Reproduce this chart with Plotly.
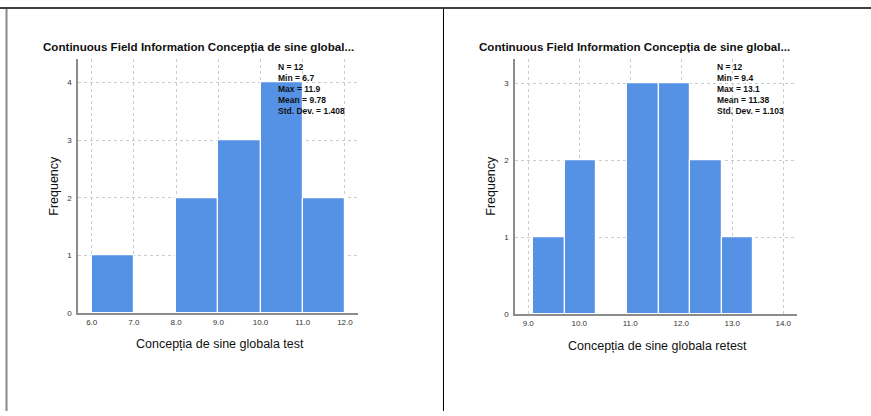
import plotly.graph_objects as go

W, H = 871, 416

# ---- data ----
test_edges = [6.0, 7.0, 8.0, 9.0, 10.0, 11.0, 12.0]
test_counts = [1, 0, 2, 3, 4, 2]
retest_edges = [9.1, 9.715, 10.33, 10.945, 11.56, 12.175, 12.79, 13.405]
retest_counts = [1, 2, 0, 3, 3, 2, 1]

test_xticks = [6.0, 7.0, 8.0, 9.0, 10.0, 11.0, 12.0]
retest_xticks = [9.0, 10.0, 11.0, 12.0, 13.0, 14.0]
test_yticks = [0, 1, 2, 3, 4]
retest_yticks = [0, 1, 2, 3]

test_stats = ["N = 12", "Min = 6.7", "Max = 11.9", "Mean = 9.78", "Std. Dev. = 1.408"]
retest_stats = ["N = 12", "Min = 9.4", "Max = 13.1", "Mean = 11.38", "Std. Dev. = 1.103"]

title_text = "Continuous Field Information Concepția de sine global..."
test_xtitle = "Concepția de sine globala test"
retest_xtitle = "Concepția de sine globala retest"
ytitle = "Frequency"

BAR = "#5592E6"
FONT = "Arial, Liberation Sans, sans-serif"


def px(x):
    return x / W


def py(y):
    return 1 - y / H


fig = go.Figure()


def add_hist(edges, counts, xa, ya):
    centers = [(edges[i] + edges[i + 1]) / 2 for i in range(len(counts))]
    widths = [edges[i + 1] - edges[i] for i in range(len(counts))]
    fig.add_trace(go.Bar(x=centers, y=counts, width=widths, xaxis=xa, yaxis=ya,
                         marker=dict(color=BAR, line=dict(color="white", width=1.2)),
                         showlegend=False, hoverinfo="skip"))


add_hist(test_edges, test_counts, "x", "y")
add_hist(retest_edges, retest_counts, "x2", "y2")

axis_common = dict(showgrid=True, gridcolor="#cccccc", griddash="dot", gridwidth=1,
                   zeroline=False, showline=True, linecolor="#8c8c8c", linewidth=1.5,
                   ticks="", tickfont=dict(family=FONT, size=8, color="#333"),
                   fixedrange=True)

fig.update_layout(
    width=W, height=H, margin=dict(l=0, r=0, t=0, b=0),
    paper_bgcolor="white", plot_bgcolor="white", bargap=0,
    xaxis=dict(domain=[px(78), px(358)], range=[5.675, 12.31], tickvals=test_xticks,
               ticktext=[f"{v:.1f}" for v in test_xticks], anchor="y", **axis_common),
    yaxis=dict(domain=[py(317), py(60)], range=[0, 4.4], tickvals=test_yticks,
               anchor="x", ticklabelstandoff=3, **axis_common),
    xaxis2=dict(domain=[px(515), px(797)], range=[8.74, 14.27], tickvals=retest_xticks,
                ticktext=[f"{v:.1f}" for v in retest_xticks], anchor="y2", **axis_common),
    yaxis2=dict(domain=[py(318), py(60)], range=[0, 3.31], tickvals=retest_yticks,
                anchor="x2", ticklabelstandoff=3, **axis_common),
)

ann = []
# titles
ann.append(dict(x=px(41), y=py(47), text=f"<b>{title_text}</b>", xanchor="left", yanchor="middle",
                font=dict(family=FONT, size=11.6, color="#111")))
ann.append(dict(x=px(477), y=py(47), text=f"<b>{title_text}</b>", xanchor="left", yanchor="middle",
                font=dict(family=FONT, size=11.6, color="#111")))
# axis titles
ann.append(dict(x=px(220), y=py(348), text=test_xtitle, xanchor="center", yanchor="middle",
                font=dict(family=FONT, size=12.5, color="#111")))
ann.append(dict(x=px(657), y=py(350), text=retest_xtitle, xanchor="center", yanchor="middle",
                font=dict(family=FONT, size=12.5, color="#111")))
ann.append(dict(x=px(54), y=py(188), text=ytitle, textangle=-90, xanchor="center", yanchor="middle",
                font=dict(family=FONT, size=12.5, color="#111")))
ann.append(dict(x=px(491), y=py(188), text=ytitle, textangle=-90, xanchor="center", yanchor="middle",
                font=dict(family=FONT, size=12.5, color="#111")))
# stats blocks
ann.append(dict(x=px(277), y=py(62), text="<br>".join(f"<b>{s}</b>" for s in test_stats),
                xanchor="left", yanchor="top", align="left", borderpad=0,
                font=dict(family=FONT, size=8.5, color="#111")))
ann.append(dict(x=px(716), y=py(62), text="<br>".join(f"<b>{s}</b>" for s in retest_stats),
                xanchor="left", yanchor="top", align="left", borderpad=0,
                font=dict(family=FONT, size=8.5, color="#111")))
for a in ann:
    a.update(xref="paper", yref="paper", showarrow=False)
fig.update_layout(annotations=ann)

# document frame lines
fig.update_layout(shapes=[
    dict(type="line", xref="paper", yref="paper", x0=0, x1=1, y0=py(8), y1=py(8),
         line=dict(color="#000", width=1.5)),
    dict(type="line", xref="paper", yref="paper", x0=px(6.5), x1=px(6.5), y0=py(9), y1=0,
         line=dict(color="#888", width=2)),
    dict(type="line", xref="paper", yref="paper", x0=px(443.5), x1=px(443.5), y0=py(9), y1=0,
         line=dict(color="#000", width=1)),
])

fig.write_html("out.html")
